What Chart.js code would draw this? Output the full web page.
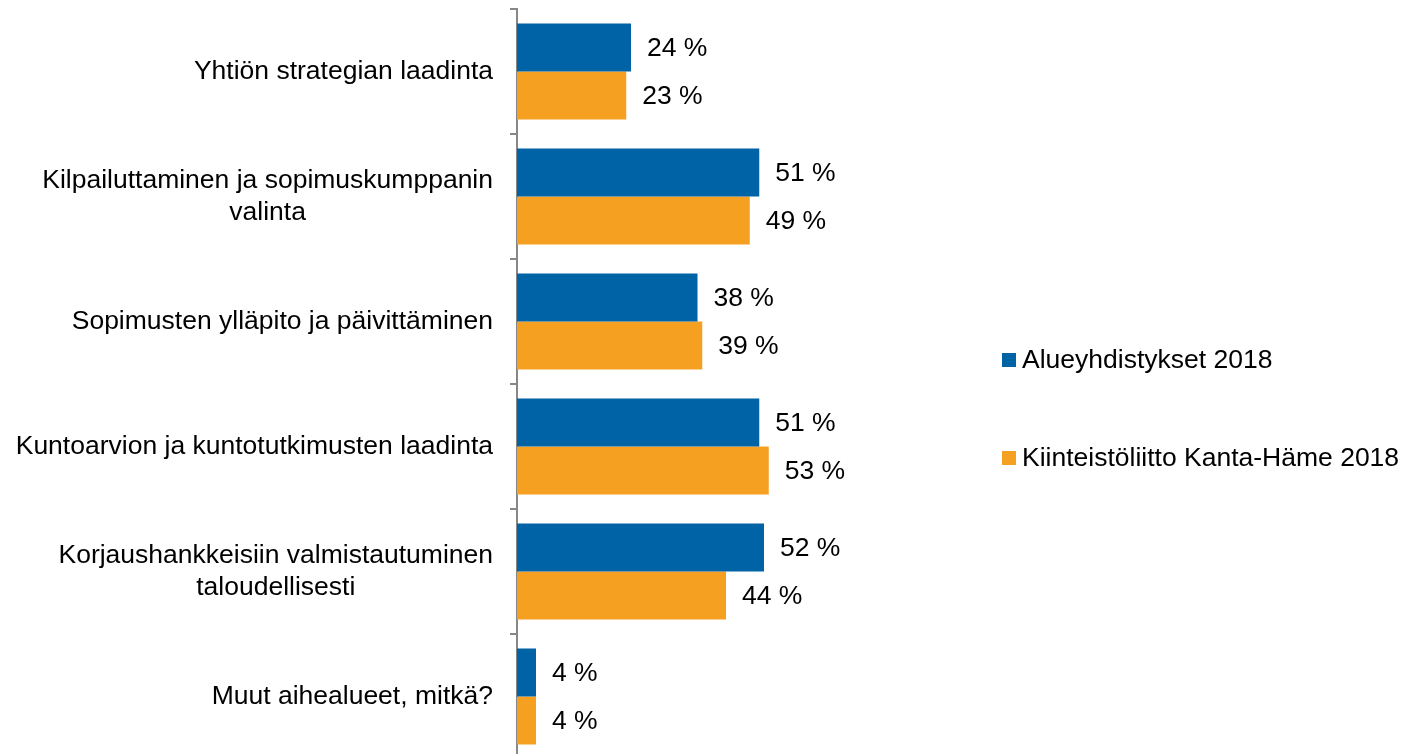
<!DOCTYPE html>
<html>
<head>
<meta charset="utf-8">
<script src="https://cdn.jsdelivr.net/npm/chart.js@4"></script>
<style>
  html, body { margin: 0; padding: 0; background: #fff; overflow: hidden; }
  #wrap { position: relative; width: 1403px; height: 761px; }
</style>
</head>
<body>
<div id="wrap"><canvas id="chart" width="1403" height="761"></canvas></div>
<script>
// categories (multi-line labels kept as arrays)
const categories = [
  ['Yhtiön strategian laadinta'],
  ['Kilpailuttaminen ja sopimuskumppanin', 'valinta'],
  ['Sopimusten ylläpito ja päivittäminen'],
  ['Kuntoarvion ja kuntotutkimusten laadinta'],
  ['Korjaushankkeisiin valmistautuminen', 'taloudellisesti'],
  ['Muut aihealueet, mitkä?']
];
const seriesNames = ['Alueyhdistykset 2018', 'Kiinteistöliitto Kanta-Häme 2018'];
const alueyhdistykset = [24, 51, 38, 51, 52, 4];
const kantaHame = [23, 49, 39, 53, 44, 4];

const FONT = '26.5px "Liberation Sans", Arial, sans-serif';

// category labels: block right-aligned, lines centred inside the block
const catLabels = {
  id: 'catLabels',
  afterDraw(chart) {
    const ctx = chart.ctx;
    const yScale = chart.scales.y;
    ctx.save();
    ctx.font = FONT;
    ctx.fillStyle = '#000';
    ctx.textBaseline = 'middle';
    ctx.textAlign = 'center';
    categories.forEach((lines, i) => {
      const y = yScale.getPixelForValue(i);
      const maxW = Math.max(...lines.map(l => ctx.measureText(l).width));
      const cx = 493 - maxW / 2;
      lines.forEach((line, j) => {
        ctx.fillText(line, cx, y + (j - (lines.length - 1) / 2) * 32);
      });
    });
    ctx.restore();
  }
};

// value labels after each bar
const valueLabels = {
  id: 'valueLabels',
  afterDatasetsDraw(chart) {
    const ctx = chart.ctx;
    ctx.save();
    ctx.font = FONT;
    ctx.fillStyle = '#000';
    ctx.textBaseline = 'middle';
    ctx.textAlign = 'left';
    chart.data.datasets.forEach((ds, di) => {
      chart.getDatasetMeta(di).data.forEach((bar, i) => {
        ctx.fillText(ds.data[i] + ' %', bar.x + 16, bar.y + 1);
      });
    });
    ctx.restore();
  }
};

// legend on the right
const sideLegend = {
  id: 'sideLegend',
  afterDraw(chart) {
    const ctx = chart.ctx;
    ctx.save();
    ctx.font = FONT;
    ctx.textBaseline = 'middle';
    ctx.textAlign = 'left';
    const rows = [360, 458];
    chart.data.datasets.forEach((ds, di) => {
      const y = rows[di];
      ctx.fillStyle = ds.backgroundColor;
      ctx.fillRect(1002, y - 7, 14, 14);
      ctx.fillStyle = '#000';
      ctx.fillText(ds.label, 1022, y + 1);
    });
    ctx.restore();
  }
};

new Chart(document.getElementById('chart'), {
  type: 'bar',
  data: {
    labels: categories,
    datasets: [
      {
        label: seriesNames[0],
        data: alueyhdistykset,
        backgroundColor: '#0063A6',
        categoryPercentage: 0.768,
        barPercentage: 1
      },
      {
        label: seriesNames[1],
        data: kantaHame,
        backgroundColor: '#F6A022',
        categoryPercentage: 0.768,
        barPercentage: 1
      }
    ]
  },
  options: {
    indexAxis: 'y',
    responsive: false,
    animation: false,
    devicePixelRatio: 1,
    layout: { padding: { top: 9, bottom: 2, left: 0, right: 411 } },
    plugins: {
      legend: { display: false },
      tooltip: { enabled: false }
    },
    scales: {
      x: {
        display: false,
        min: 0,
        max: 100
      },
      y: {
        grid: {
          offset: true,
          drawOnChartArea: false,
          drawTicks: true,
          tickLength: 7,
          color: '#878787',
          lineWidth: 2
        },
        border: { display: true, color: '#878787', width: 2 },
        ticks: { display: false },
        afterFit(scale) { scale.width = 517; }
      }
    }
  },
  plugins: [catLabels, valueLabels, sideLegend]
});
</script>
</body>
</html>
